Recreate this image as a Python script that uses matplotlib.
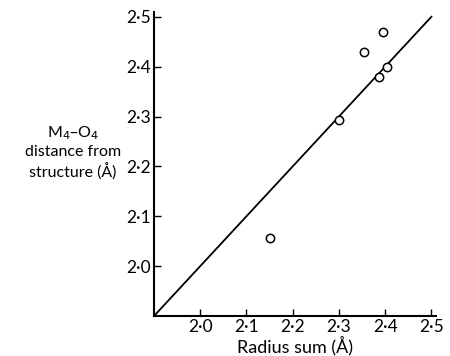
import numpy as np
import matplotlib
matplotlib.use("Agg")
import matplotlib.pyplot as plt
from matplotlib.ticker import FuncFormatter

plt.rcParams['font.family'] = ['Lato', 'DejaVu Sans']

# radius sum vs observed M4-O4 distance
radius_sum = [2.15, 2.30, 2.355, 2.387, 2.396, 2.404]
distance = [2.057, 2.293, 2.430, 2.380, 2.469, 2.400]
ticks = [2.0, 2.1, 2.2, 2.3, 2.4, 2.5]
line_ends = [1.9, 2.5]

fig = plt.figure(figsize=(4.5, 3.56), dpi=100)
ax = fig.add_axes([0.342, 0.112, 0.627, 0.855])

ax.plot(line_ends, line_ends, color='black', lw=1.3)
ax.scatter(radius_sum, distance, s=36, facecolors='white', edgecolors='black',
           linewidths=1.1, zorder=3)

ax.set_xlim(1.9, 2.51)
ax.set_ylim(1.9, 2.51)
ax.set_xticks(ticks)
ax.set_yticks(ticks)
fmt = FuncFormatter(lambda v, p: f'{v:.1f}'.replace('.', '\u00b7'))
ax.xaxis.set_major_formatter(fmt)
ax.yaxis.set_major_formatter(fmt)
ax.tick_params(direction='in', length=5, width=1.0, labelsize=12.5, pad=2)

for s in ['top', 'right']:
    ax.spines[s].set_visible(False)
for s in ['left', 'bottom']:
    ax.spines[s].set_linewidth(1.5)

ax.set_xlabel('Radius sum (Å)', fontsize=13, labelpad=1)
fig.text(0.162, 0.572, 'M$_4$\u2013O$_4$\ndistance from\nstructure (Å)',
         ha='center', va='center', fontsize=11.5, linespacing=1.3)

plt.savefig('out.png', dpi=100)
